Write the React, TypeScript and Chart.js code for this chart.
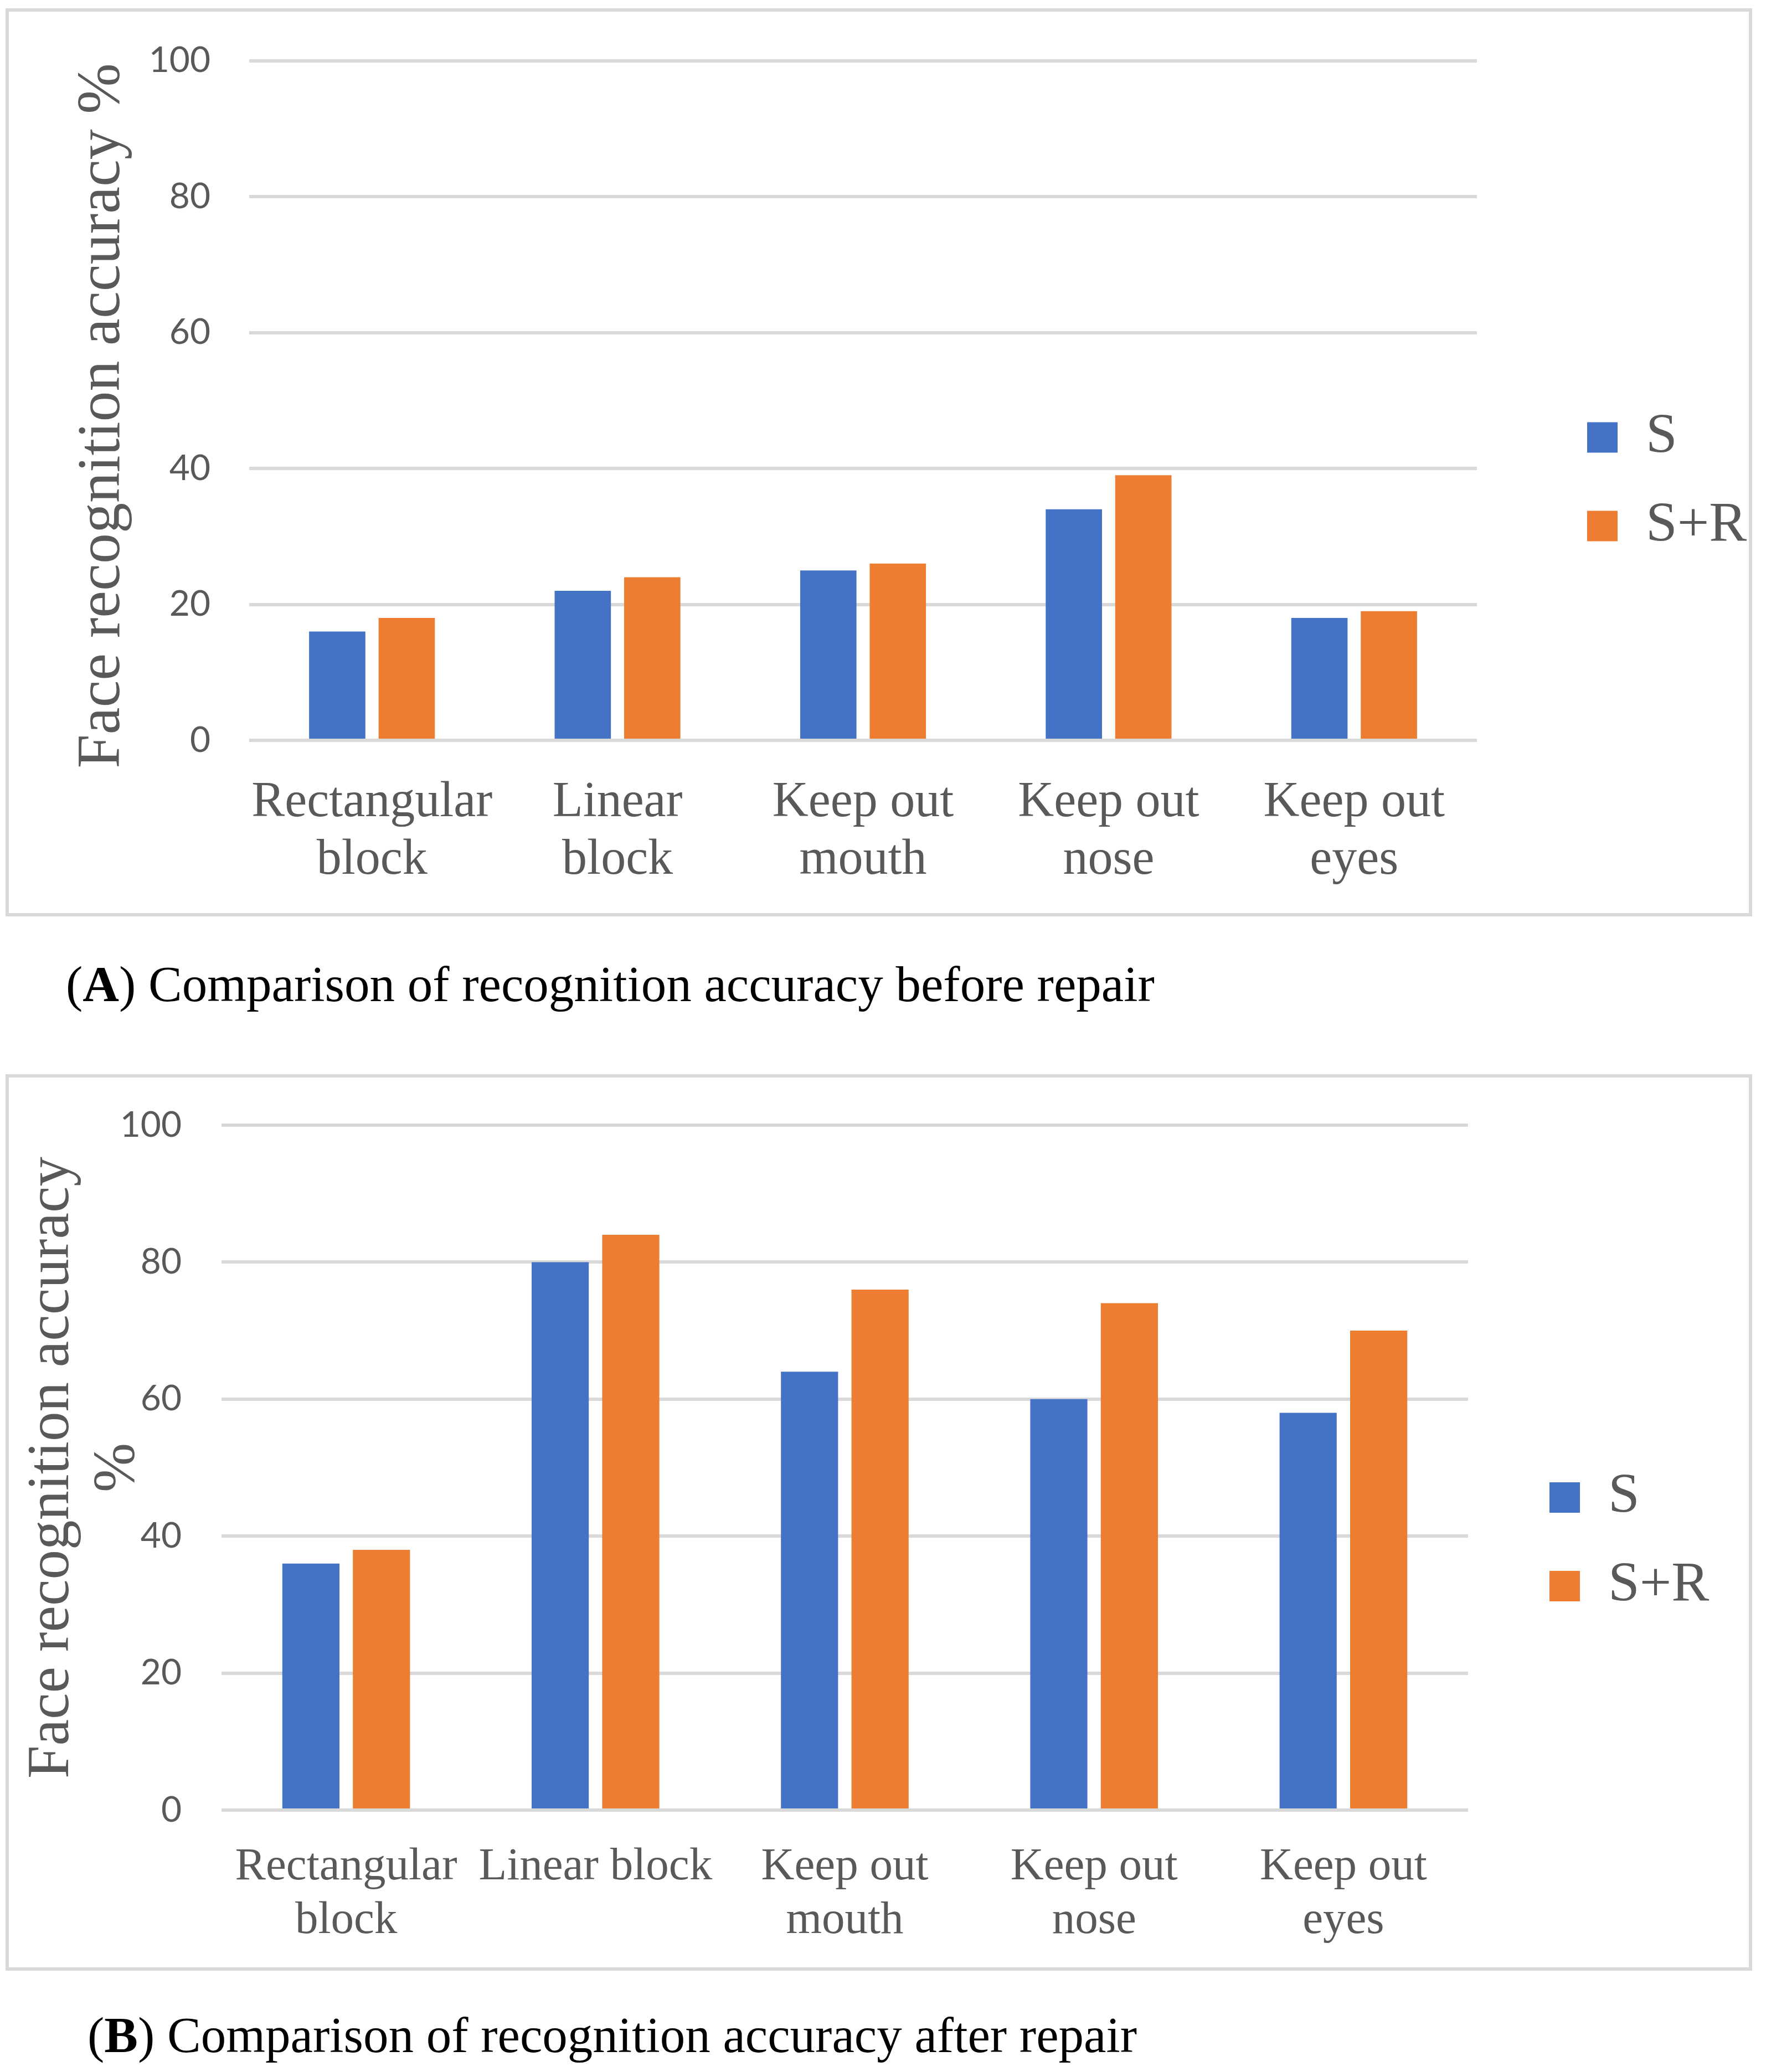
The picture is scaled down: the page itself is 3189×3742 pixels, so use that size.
import React, { useEffect, useRef } from 'react';
import { Chart, registerables } from 'chart.js';

Chart.register(...registerables);

// ---------- data ----------
const seriesNames = ['S', 'S+R'];

const categoriesA = [
  ['Rectangular', 'block'],
  ['Linear', 'block'],
  ['Keep out', 'mouth'],
  ['Keep out', 'nose'],
  ['Keep out', 'eyes'],
];
const sValuesA = [16, 22, 25, 34, 18];
const srValuesA = [18, 24, 26, 39, 19];

const categoriesB = [
  ['Rectangular', 'block'],
  'Linear block',
  ['Keep out', 'mouth'],
  ['Keep out', 'nose'],
  ['Keep out', 'eyes'],
];
const sValuesB = [36, 80, 64, 60, 58];
const srValuesB = [38, 84, 76, 74, 70];

const yTickValues = [0, 20, 40, 60, 80, 100];

const yTitleA = 'Face recognition accuracy %  ';
const yTitleB = ['Face recognition accuracy', '%'];

const captionA = 'Comparison of recognition accuracy before repair';
const captionB = 'Comparison of recognition accuracy after repair';

// ---------- styles ----------
const BLUE = '#4472c4';
const ORANGE = '#ed7d31';
const GRID = '#d9d9d9';
const TEXT = '#595959';
const SERIF = '"Liberation Serif", "Times New Roman", serif';
const SANS = 'Lato, "Open Sans", sans-serif';

type PanelCfg = {
  labels: any[];
  s: number[];
  sr: number[];
  title: string | string[];
  top: number;
  height: number;
  padTop: number;
  padBottom: number;
  padRight: number;
  yWidth: number;
  yTickPad: number;
  titleSize: number;
  titlePadTop: number;
  titleLH: number;
  xHeight: number;
  xPad: number;
  xFont: number;
  xLH: number;
  spacer: number;
};

function ChartPanel({ cfg }: { cfg: PanelCfg }) {
  const ref = useRef<HTMLCanvasElement>(null);
  useEffect(() => {
    const canvas = ref.current!;
    const chart = new Chart(canvas, {
      type: 'bar',
      data: {
        labels: cfg.labels,
        datasets: [
          {
            label: seriesNames[0],
            data: cfg.s,
            backgroundColor: BLUE,
            yAxisID: 'y',
            categoryPercentage: 0.566,
            barPercentage: 0.81,
          },
          {
            label: seriesNames[1],
            data: cfg.sr,
            backgroundColor: ORANGE,
            yAxisID: 'y',
            categoryPercentage: 0.566,
            barPercentage: 0.81,
          },
        ],
      },
      options: {
        responsive: false,
        animation: false,
        devicePixelRatio: 1,
        layout: {
          padding: { left: 0, top: cfg.padTop, right: cfg.padRight, bottom: cfg.padBottom },
        },
        plugins: {
          tooltip: { enabled: false },
          legend: {
            position: 'right',
            align: 'center',
            maxWidth: 352,
            labels: {
              boxWidth: 55,
              boxHeight: 55,
              padding: 58,
              color: TEXT,
              font: { family: SERIF, size: 102 },
            },
          },
        },
        scales: {
          x: {
            grid: { display: false, drawTicks: false },
            border: { display: false },
            ticks: {
              color: TEXT,
              font: { family: SERIF, size: cfg.xFont, lineHeight: cfg.xLH },
              padding: cfg.xPad,
              maxRotation: 0,
              minRotation: 0,
              autoSkip: false,
            },
            afterFit: (s: any) => {
              s.height = cfg.xHeight;
            },
          },
          y: {
            min: yTickValues[0],
            max: yTickValues[yTickValues.length - 1],
            ticks: {
              stepSize: yTickValues[1] - yTickValues[0],
              color: TEXT,
              padding: cfg.yTickPad,
              font: { family: SANS, size: 64 },
            },
            grid: { color: GRID, lineWidth: 6, drawTicks: false },
            border: { display: false },
            title: {
              display: true,
              text: cfg.title,
              color: TEXT,
              font: { family: SERIF, size: cfg.titleSize, lineHeight: cfg.titleLH },
              padding: { top: cfg.titlePadTop, bottom: 0 },
            },
            afterFit: (s: any) => {
              s.width = cfg.yWidth;
              s.paddingTop = 0;
              s.paddingBottom = 0;
            },
          },
          spacer: {
            type: 'linear',
            position: 'right',
            display: true,
            grid: { display: false, drawTicks: false },
            border: { display: false },
            ticks: { display: false },
            afterFit: (s: any) => {
              s.width = cfg.spacer;
              s.paddingTop = 0;
              s.paddingBottom = 0;
            },
          },
        },
      } as any,
    });
    return () => chart.destroy();
  }, []);

  return (
    <>
      <canvas
        ref={ref}
        width={3189}
        height={cfg.height}
        style={{ position: 'absolute', left: 0, top: cfg.top, width: 3189, height: cfg.height }}
      />
      <div
        style={{
          position: 'absolute',
          left: 10,
          top: cfg.top,
          width: 3154,
          height: cfg.height,
          border: `6px solid ${GRID}`,
          boxSizing: 'border-box',
          pointerEvents: 'none',
        }}
      />
    </>
  );
}

const panelA: PanelCfg = {
  labels: categoriesA,
  s: sValuesA,
  sr: srValuesA,
  title: yTitleA,
  top: 15,
  height: 1640,
  padTop: 94.5,
  padBottom: 24.5,
  padRight: 29,
  yWidth: 450,
  yTickPad: 70,
  titleSize: 110,
  titlePadTop: 120,
  titleLH: 1.2,
  xHeight: 293.5,
  xPad: 61,
  xFont: 90,
  xLH: 1.156,
  spacer: 141,
};

const panelB: PanelCfg = {
  labels: categoriesB,
  s: sValuesB,
  sr: srValuesB,
  title: yTitleB,
  top: 1940,
  height: 1619,
  padTop: 92,
  padBottom: 22,
  padRight: 97,
  yWidth: 400,
  yTickPad: 72,
  titleSize: 107,
  titlePadTop: 35.5,
  titleLH: 1.112,
  xHeight: 268,
  xPad: 55,
  xFont: 83,
  xLH: 1.169,
  spacer: 89,
};

function Caption({ letter, text, left, top }: { letter: string; text: string; left: number; top: number }) {
  return (
    <div
      style={{
        position: 'absolute',
        left,
        top,
        fontFamily: SERIF,
        fontSize: 91,
        lineHeight: 1,
        color: '#000',
        whiteSpace: 'nowrap',
      }}
    >
      (<b>{letter}</b>) {text}
    </div>
  );
}

export default function App() {
  return (
    <div
      style={{
        position: 'absolute',
        left: 0,
        top: 0,
        width: 3189,
        height: 3742,
        background: '#fff',
        overflow: 'hidden',
      }}
    >
      <ChartPanel cfg={panelA} />
      <Caption letter="A" text={captionA} left={119} top={1732} />
      <ChartPanel cfg={panelB} />
      <Caption letter="B" text={captionB} left={158} top={3630} />
    </div>
  );
}
